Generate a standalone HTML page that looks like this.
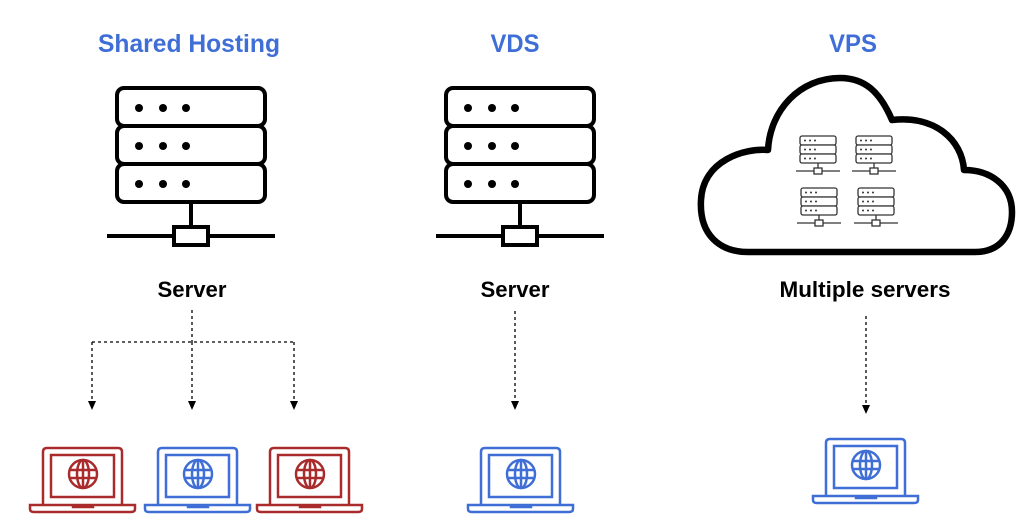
<!DOCTYPE html>
<html><head><meta charset="utf-8"><style>
html,body{margin:0;padding:0;background:#fff;}
svg{display:block}
text{font-family:"Liberation Sans Narrow","Liberation Sans",sans-serif;font-weight:bold;}
</style></head><body>
<svg width="1024" height="526" viewBox="0 0 1024 526" xmlns="http://www.w3.org/2000/svg">
<defs>
<g id="srv">
 <rect x="0" y="0" width="148" height="38" rx="7" fill="#fff" stroke="#000" stroke-width="4"/>
 <rect x="0" y="38" width="148" height="38" rx="7" fill="#fff" stroke="#000" stroke-width="4"/>
 <rect x="0" y="76" width="148" height="38" rx="7" fill="#fff" stroke="#000" stroke-width="4"/>
 <g fill="#000"><circle cx="22" cy="20" r="4"/><circle cx="46" cy="20" r="4"/><circle cx="69" cy="20" r="4"/>
 <circle cx="22" cy="58" r="4"/><circle cx="46" cy="58" r="4"/><circle cx="69" cy="58" r="4"/>
 <circle cx="22" cy="96" r="4"/><circle cx="46" cy="96" r="4"/><circle cx="69" cy="96" r="4"/></g>
 <line x1="74" y1="114" x2="74" y2="139" stroke="#000" stroke-width="4"/>
 <line x1="-10" y1="148" x2="158" y2="148" stroke="#000" stroke-width="4"/>
 <rect x="57" y="139" width="34" height="18" fill="#fff" stroke="#000" stroke-width="4"/>
</g>
<g id="mini">
 <rect x="0" y="0" width="36" height="9" rx="2" fill="#fff" stroke="#333" stroke-width="1.3"/>
 <rect x="0" y="9" width="36" height="9" rx="2" fill="#fff" stroke="#333" stroke-width="1.3"/>
 <rect x="0" y="18" width="36" height="9" rx="2" fill="#fff" stroke="#333" stroke-width="1.3"/>
 <g fill="#333"><circle cx="5" cy="4.5" r="1"/><circle cx="10" cy="4.5" r="1"/><circle cx="15" cy="4.5" r="1"/>
 <circle cx="5" cy="13.5" r="1"/><circle cx="10" cy="13.5" r="1"/><circle cx="15" cy="13.5" r="1"/>
 <circle cx="5" cy="22.5" r="1"/><circle cx="10" cy="22.5" r="1"/><circle cx="15" cy="22.5" r="1"/></g>
 <line x1="18" y1="27" x2="18" y2="32" stroke="#333" stroke-width="1.3"/>
 <line x1="-4" y1="35" x2="40" y2="35" stroke="#333" stroke-width="1.3"/>
 <rect x="14" y="32" width="8" height="6" fill="#fff" stroke="#333" stroke-width="1.3"/>
</g>
<g id="lap" fill="none" stroke-width="2.5">
 <path d="M0 56 V4 Q0 0 4 0 H75 Q79 0 79 4 V56"/>
 <rect x="8" y="7" width="63" height="42"/>
 <circle cx="40" cy="26" r="14"/>
 <ellipse cx="40" cy="26" rx="6" ry="14"/>
 <line x1="40" y1="12" x2="40" y2="40"/>
 <line x1="26" y1="22" x2="54" y2="22"/>
 <line x1="26" y1="30" x2="54" y2="30"/>
 <path d="M-13 57 H92 V61 Q92 64 88 64 H-9 Q-13 64 -13 61 Z"/>
 <path d="M30 57 V59 H50 V57"/>
</g>
</defs>

<text x="189" y="52" font-size="25" fill="#3f6fd6" text-anchor="middle" textLength="182" lengthAdjust="spacingAndGlyphs">Shared Hosting</text>
<text x="515" y="52" font-size="25" fill="#3f6fd6" text-anchor="middle" textLength="49" lengthAdjust="spacingAndGlyphs">VDS</text>
<text x="853" y="52" font-size="25" fill="#3f6fd6" text-anchor="middle" textLength="48" lengthAdjust="spacingAndGlyphs">VPS</text>

<use href="#srv" x="117" y="88"/>
<use href="#srv" x="446" y="88"/>

<path d="M768 150 C745 148 703 160 701 200 C699 235 720 252 748 252 L975 252 C1000 252 1012 235 1012 212 C1012 185 990 170 964 170 C962 140 935 115 892 120 C880 92 865 78 840 78 C800 78 770 110 768 150 Z" fill="#fff" stroke="#000" stroke-width="6.5" stroke-linejoin="round"/>
<use href="#mini" x="800" y="136"/>
<use href="#mini" x="856" y="136"/>
<use href="#mini" x="801" y="188"/>
<use href="#mini" x="858" y="188"/>

<text x="192" y="297" font-size="22" fill="#000" text-anchor="middle" textLength="69" lengthAdjust="spacingAndGlyphs">Server</text>
<text x="515" y="297" font-size="22" fill="#000" text-anchor="middle" textLength="69" lengthAdjust="spacingAndGlyphs">Server</text>
<text x="865" y="297" font-size="22" fill="#000" text-anchor="middle" textLength="171" lengthAdjust="spacingAndGlyphs">Multiple servers</text>

<g stroke="#000" stroke-width="1.3" stroke-dasharray="3,3" fill="none">
 <path d="M192 310 V342"/>
 <path d="M92 342 H294"/>
 <path d="M92 342 V402"/>
 <path d="M192 342 V402"/>
 <path d="M294 342 V402"/>
 <path d="M515 311 V402"/>
 <path d="M866 316 V406"/>
</g>
<g fill="#000">
 <path d="M88 401 L96 401 L92 410 Z"/>
 <path d="M188 401 L196 401 L192 410 Z"/>
 <path d="M290 401 L298 401 L294 410 Z"/>
 <path d="M511 401 L519 401 L515 410 Z"/>
 <path d="M862 405 L870 405 L866 414 Z"/>
</g>

<use href="#lap" x="43" y="448" stroke="#a92b2b"/>
<use href="#lap" x="158" y="448" stroke="#3f6fd6"/>
<use href="#lap" x="270" y="448" stroke="#a92b2b"/>
<use href="#lap" x="481" y="448" stroke="#3f6fd6"/>
<use href="#lap" x="826" y="439" stroke="#3f6fd6"/>
</svg>
</body></html>
